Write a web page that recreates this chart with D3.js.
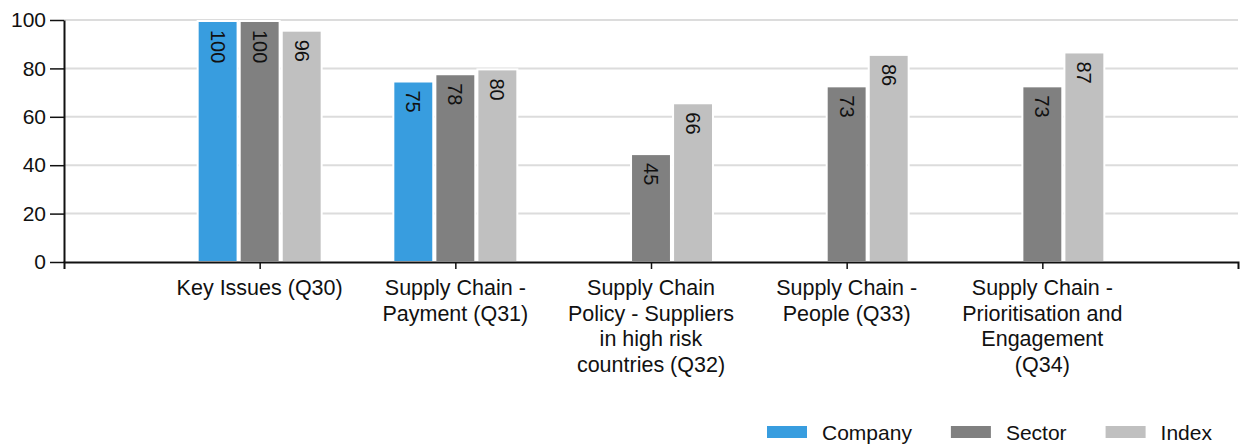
<!DOCTYPE html>
<html>
<head>
<meta charset="utf-8">
<script src="https://cdn.jsdelivr.net/npm/d3@7"></script>
<style>
  body { margin: 0; background: #fff; }
  text { font-family: "Liberation Sans", Arial, sans-serif; fill: #111; }
</style>
</head>
<body>
<div id="chart"></div>
<script>
const categories = [
  "Key Issues (Q30)",
  "Supply Chain - Payment (Q31)",
  "Supply Chain Policy - Suppliers in high risk countries (Q32)",
  "Supply Chain - People (Q33)",
  "Supply Chain - Prioritisation and Engagement (Q34)"
];
const seriesNames = ["Company", "Sector", "Index"];
const companyValues = [100, 75, null, null, null];
const sectorValues = [100, 78, 45, 73, 73];
const indexValues = [96, 80, 66, 86, 87];
const yTicks = [0, 20, 40, 60, 80, 100];
const colors = ["#389ddf", "#808080", "#c0c0c0"];

const width = 1240, height = 446;
const margin = { top: 20, right: 2, bottom: 185, left: 64 };

const svg = d3.select("#chart")
  .append("svg")
  .attr("width", width)
  .attr("height", height);

const x = d3.scalePoint()
  .domain(categories)
  .range([margin.left, width - margin.right])
  .padding(1);

const y = d3.scaleLinear()
  .domain([0, 100])
  .range([height - margin.bottom + 1, margin.top]);

const inner = d3.scaleBand()
  .domain(seriesNames)
  .range([-62, 62])
  .paddingInner(0.05);

const color = d3.scaleOrdinal().domain(seriesNames).range(colors);

// gridlines
svg.append("g")
  .selectAll("line")
  .data(yTicks.filter(d => d > 0))
  .enter()
  .append("line")
  .attr("x1", margin.left)
  .attr("x2", width - margin.right)
  .attr("y1", d => y(d))
  .attr("y2", d => y(d))
  .attr("stroke", "#dcdcdc")
  .attr("stroke-width", 2);

// bars
const rows = categories.map((c, i) => ({
  cat: c,
  values: [companyValues[i], sectorValues[i], indexValues[i]]
}));

const groups = svg.append("g")
  .selectAll("g")
  .data(rows)
  .enter()
  .append("g")
  .attr("transform", d => `translate(${x(d.cat)},0)`);

const cells = groups.selectAll("g")
  .data(d => seriesNames.map((s, j) => ({ key: s, value: d.values[j] })).filter(v => v.value != null))
  .enter()
  .append("g");

cells.append("rect")
  .attr("x", d => inner(d.key))
  .attr("y", d => y(d.value) + 1)
  .attr("width", inner.bandwidth())
  .attr("height", d => y(0) - y(d.value) - 1)
  .attr("fill", d => color(d.key))
  .attr("stroke", "#fff")
  .attr("stroke-width", 2);

cells.append("text")
  .attr("transform", d => `translate(${inner(d.key) + inner.bandwidth() / 2},${y(d.value) + 10}) rotate(90)`)
  .attr("dy", "0.35em")
  .style("font-size", "20px")
  .text(d => d.value);

// y axis
const yAxis = svg.append("g")
  .attr("transform", `translate(${margin.left},0)`)
  .call(d3.axisLeft(y).tickValues(yTicks).tickSize(14).tickSizeOuter(0).tickPadding(4));
yAxis.select(".domain").attr("stroke", "#111").attr("stroke-width", 2);
yAxis.selectAll(".tick line").attr("stroke", "#111").attr("stroke-width", 1.5);
yAxis.selectAll("text").style("font-size", "21px").attr("fill", "#111");

// x axis
const xAxis = svg.append("g")
  .attr("transform", `translate(0,${y(0)})`)
  .call(d3.axisBottom(x).tickSize(7).tickSizeOuter(7).tickFormat(""));
xAxis.select(".domain").attr("stroke", "#111").attr("stroke-width", 2);
xAxis.selectAll(".tick line").attr("stroke", "#111").attr("stroke-width", 1.5);

// wrapped category labels
function wrapWords(str, maxW, fontSize) {
  const probe = svg.append("text").style("font-size", fontSize + "px");
  const words = str.split(" ");
  const lines = [];
  let line = [];
  words.forEach(w => {
    line.push(w);
    probe.text(line.join(" "));
    if (probe.node().getComputedTextLength() > maxW && line.length > 1) {
      line.pop();
      lines.push(line.join(" "));
      line = [w];
    }
  });
  lines.push(line.join(" "));
  probe.remove();
  return lines;
}

const labels = svg.append("g")
  .selectAll("text")
  .data(categories)
  .enter()
  .append("text")
  .attr("text-anchor", "middle")
  .style("font-size", "21.5px")
  .attr("x", d => x(d))
  .attr("y", y(0) + 33);

labels.each(function(d) {
  const lines = wrapWords(d, 176, 21.5);
  d3.select(this).selectAll("tspan")
    .data(lines)
    .enter()
    .append("tspan")
    .attr("x", x(d))
    .attr("dy", (l, i) => i === 0 ? 0 : 25.5)
    .text(l => l);
});

// legend
const legend = svg.append("g").attr("transform", "translate(767,0)");
let lx = 0;
seriesNames.forEach(s => {
  const item = legend.append("g").attr("transform", `translate(${lx},0)`);
  item.append("rect")
    .attr("x", 0)
    .attr("y", 426)
    .attr("width", 40)
    .attr("height", 12)
    .attr("fill", color(s));
  const t = item.append("text")
    .attr("x", 55)
    .attr("y", 440)
    .style("font-size", "21px")
    .text(s);
  lx += 55 + t.node().getComputedTextLength() + 39;
});
</script>
</body>
</html>
